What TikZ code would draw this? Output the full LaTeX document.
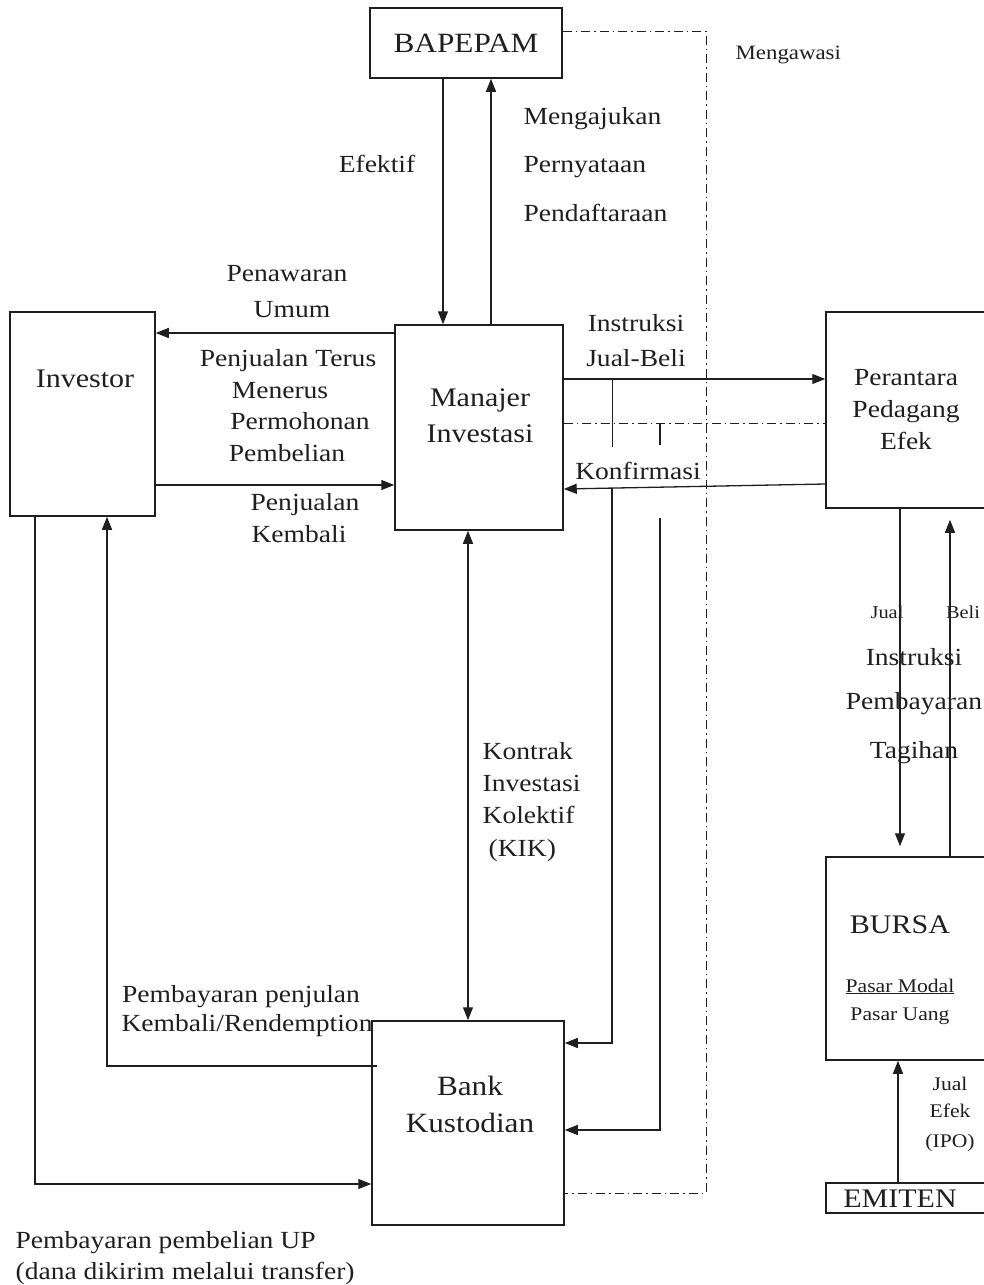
\documentclass[tikz,border=0pt]{standalone}
\usepackage{fontspec}
\setmainfont{Liberation Serif}[FakeStretch=1.12]
\usetikzlibrary{arrows.meta,calc}
\begin{document}
\begin{tikzpicture}[x=1pt,y=-1pt, line width=1.3pt, color=black!88,
  box/.style={draw, line width=1.5pt, rectangle, inner sep=0pt},
  arr/.style={-{Triangle[length=13pt,width=10pt]}},
  darr/.style={{Triangle[length=13pt,width=10pt]}-{Triangle[length=13pt,width=10pt]}},
  dd/.style={line width=1pt, dash pattern=on 9pt off 4pt on 1.5pt off 4pt},
  lab/.style={inner sep=0pt, anchor=base, font=\fontsize{24.6}{28}\selectfont},
  labw/.style={lab, anchor=base west},
  big/.style={inner sep=0pt, anchor=base, font=\fontsize{26.8}{30}\selectfont},
  sm/.style={inner sep=0pt, anchor=base, font=\fontsize{19.3}{22}\selectfont}]

\useasboundingbox (0,0) rectangle (984,1285);

% boxes
\node[box, minimum width=192pt, minimum height=70pt]  (bap)  at (466,43)    {};
\node[box, minimum width=168pt, minimum height=205pt] (man)  at (479,427.5) {};
\node[box, minimum width=145pt, minimum height=204pt] (inv)  at (82.5,414)  {};
\node[box, minimum width=160pt, minimum height=196pt] (per)  at (906,410)   {};
\node[box, minimum width=160pt, minimum height=203pt] (bur)  at (906,958.5) {};
\node[box, minimum width=160pt, minimum height=30pt]  (emi)  at (906,1198)  {};
\node[box, minimum width=192pt, minimum height=204pt] (bank) at (468,1123)  {};

% BAPEPAM <-> Manajer
\draw[arr] ([xshift=-23]bap.south) -- ([xshift=-36]man.north);
\draw[arr] ([xshift=12]man.north) -- ([xshift=25]bap.south);

% Investor <-> Manajer
\coordinate (pa) at ([yshift=94.5]man.west);
\draw[arr] (pa) -- (pa -| inv.east);
\coordinate (pb) at ([yshift=-57.5]man.west);
\draw[arr] (pb -| inv.east) -- (pb);

% Manajer <-> Perantara
\coordinate (ia) at ([yshift=48.5]man.east);
\draw[arr] (ia) -- (ia -| per.west);
\coordinate (da) at ([yshift=4.5]man.east);
\draw[dd] (da) -- (da -| per.west);
\draw[arr] ([yshift=-74]per.west) -- ([yshift=-61.5]man.east);

% verticals to Bank
\coordinate (v1a) at ([xshift=49]ia);
\coordinate (v1e) at ($(v1a)+(0,68)$);
\draw (v1a) -- (v1e);
\coordinate (v2a) at (660,423);
\coordinate (v2e) at (660,445);
\draw (v2a) -- (v2e);
\coordinate (k1) at ([yshift=80]bank.east);
\coordinate (k2) at ([yshift=-7]bank.east);
\coordinate (v1b) at (612,488);
\coordinate (v2b) at (660,518);
\draw[arr] (v1b) |- (k1);
\draw[arr] (v2b) |- (k2);

% Manajer <-> Bank
\draw[darr] ([xshift=-11]man.south) -- (bank.north);

% Investor <-> Bank
\draw[arr] ([xshift=-47.5]inv.south) |- ([yshift=-61]bank.west);
\draw[arr] ([xshift=6,yshift=57]bank.west) -| ([xshift=24.5]inv.south);

% Perantara <-> BURSA, EMITEN
\draw[arr, shorten >=10pt] ([xshift=-6]per.south) -- ([xshift=-6]bur.north);
\draw[arr, shorten >=11pt] ([xshift=44]bur.north) -- ([xshift=44]per.south);
\draw[arr] ([xshift=-8]emi.north) -- ([xshift=-8]bur.south);

% supervision (dash-dot)
\coordinate (dc) at (706,1193);
\draw[dd] ([yshift=12]bap.east) -| (dc) -- (dc -| bank.east);

% box texts
\node[big, font=\fontsize{27.9}{30}\selectfont] (tbap) at (466,52) {BAPEPAM};
\node[big] (tinv) at (85,387) {Investor};
\node[big] (tman1) at (480,406) {Manajer};
\node[big] (tman2) at (480,442) {Investasi};
\node[big, font=\fontsize{27.9}{30}\selectfont] (tbk1) at (470,1095) {Bank};
\node[big, font=\fontsize{27.9}{30}\selectfont] (tbk2) at (470,1132) {Kustodian};
\node[lab] (tper1) at (906,385) {Perantara};
\node[lab] (tper2) at (906,417) {Pedagang};
\node[lab] (tper3) at (906,449) {Efek};
\node[big] (tbur) at (900,933) {BURSA};
\node[sm] (tpm) at (900,992) {\underline{Pasar Modal}};
\node[sm] (tpu) at (900,1020) {Pasar Uang};
\node[big] (temi) at (900,1207) {EMITEN};

% labels
\node[sm, anchor=base west, font=\fontsize{20.4}{22}\selectfont] (lmeng) at (735,59) {Mengawasi};
\node[lab] (lef) at (377,172) {Efektif};
\node[labw] (lm1) at (523,124) {Mengajukan};
\node[labw] (lm2) at (523,172) {Pernyataan};
\node[labw] (lm3) at (523,221) {Pendaftaraan};
\node[lab] (lp1) at (287,281) {Penawaran};
\node[lab] (lp2) at (292,317) {Umum};
\node[lab] (lp3) at (288,366) {Penjualan Terus};
\node[lab] (lp4) at (280,398) {Menerus};
\node[lab] (lp5) at (300,429) {Permohonan};
\node[lab] (lp6) at (287,461) {Pembelian};
\node[lab] (lp7) at (305,510) {Penjualan};
\node[lab] (lp8) at (299,542) {Kembali};
\node[lab] (li1) at (636,331) {Instruksi};
\node[lab] (li2) at (636,366) {Jual-Beli};
\node[lab] (lkon) at (638,479) {Konfirmasi};
\node[labw] (lk1) at (482,759) {Kontrak};
\node[labw] (lk2) at (482,791) {Investasi};
\node[labw] (lk3) at (482,823) {Kolektif};
\node[labw] (lk4) at (488,856) {(KIK)};
\node[lab] (lr1) at (241,1002) {Pembayaran penjulan};
\node[lab] (lr2) at (247,1031) {Kembali/Rendemption};
\node[labw] (lu1) at (15,1248) {Pembayaran pembelian UP};
\node[labw] (lu2) at (15,1279) {(dana dikirim melalui transfer)};
\node[sm, font=\fontsize{18.2}{20}\selectfont] (lj) at (887,618) {Jual};
\node[sm, font=\fontsize{18.2}{20}\selectfont] (lb) at (963,618) {Beli};
\node[lab] (lt1) at (914,665) {Instruksi};
\node[lab] (lt2) at (914,709) {Pembayaran};
\node[lab] (lt3) at (914,758) {Tagihan};
\node[sm] (le1) at (950,1090) {Jual};
\node[sm] (le2) at (950,1117) {Efek};
\node[sm] (le3) at (950,1147) {(IPO)};
\end{tikzpicture}
\end{document}
